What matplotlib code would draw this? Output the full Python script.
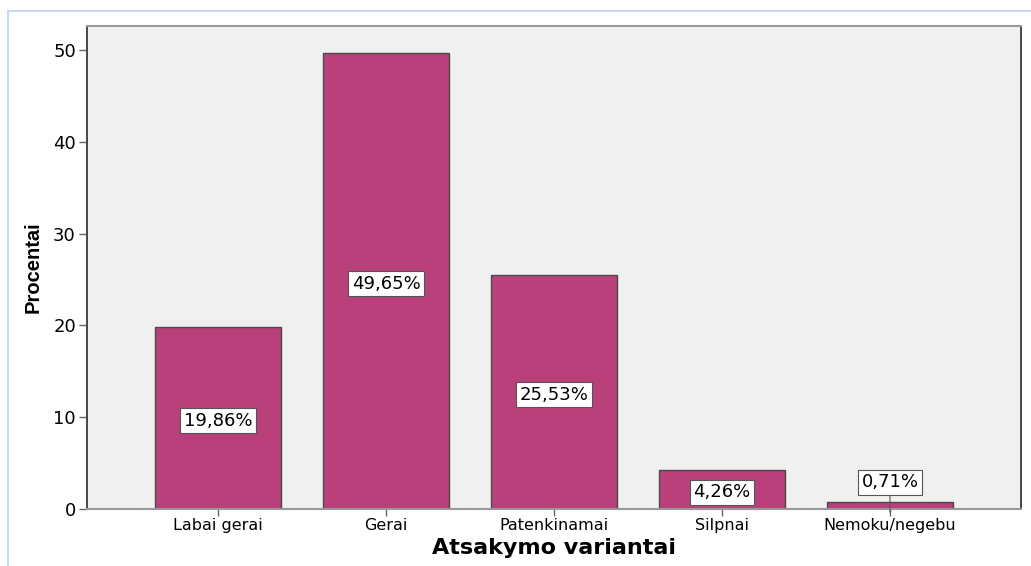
import matplotlib
matplotlib.use("Agg")
import matplotlib.pyplot as plt
from matplotlib.lines import Line2D

categories = ["Labai gerai", "Gerai", "Patenkinamai", "Silpnai", "Nemoku/negebu"]
values = [19.86, 49.65, 25.53, 4.26, 0.71]
labels = ["19,86%", "49,65%", "25,53%", "4,26%", "0,71%"]
yticks = [0, 10, 20, 30, 40, 50]

plt.rcParams['font.family'] = ['DejaVu Sans']

fig = plt.figure(figsize=(10.31, 5.66), dpi=100)
ax = fig.add_axes([87/1031, 57/566, (1021-87)/1031, (509-26)/566])
ax.set_facecolor('#F0F0F0')

x = list(range(len(categories)))
ax.bar(x, values, width=0.75, color='#B9407B', edgecolor='#4a4a4a', linewidth=1.0, zorder=2)

ax.set_xlim(-0.78, 4.78)
ax.set_ylim(0, 52.6)
ax.set_yticks(yticks)
ax.set_yticklabels([str(t) for t in yticks], fontsize=13)
ax.set_xticks(x)
ax.set_xticklabels(categories, fontsize=11.5)
ax.tick_params(axis='y', length=6, width=1, color='#666666', pad=2)
ax.tick_params(axis='x', length=5, width=1, color='#666666', pad=1.5)

for s in ['left', 'right']:
    ax.spines[s].set_color('#3a3a3a')
    ax.spines[s].set_linewidth(1.3)
for s in ['top', 'bottom']:
    ax.spines[s].set_color('#999999')
    ax.spines[s].set_linewidth(1.5)

bbox = dict(boxstyle='square,pad=0.2', facecolor='white', edgecolor='#555555', linewidth=0.8)
for i, (v, lab) in enumerate(zip(values, labels)):
    if v < 2:
        ax.annotate(lab, xy=(i, -0.35), xytext=(i, 2.9), ha='center', va='center',
                    fontsize=13, bbox=bbox, zorder=4, annotation_clip=False,
                    arrowprops=dict(arrowstyle='-', color='#555555', lw=0.8,
                                    shrinkA=0, shrinkB=0))
    else:
        ax.text(i, v / 2 - 0.3, lab, ha='center', va='center', fontsize=13, bbox=bbox, zorder=4)

ax.set_ylabel('Procentai', fontsize=14.5, fontweight='bold',
              family=['Liberation Sans', 'DejaVu Sans'])
ax.yaxis.set_label_coords(-0.047, 0.5)
ax.set_xlabel('Atsakymo variantai', fontsize=16, fontweight='bold')
ax.xaxis.set_label_coords(0.5, -0.061)

# light blue frame around the chart
fig.add_artist(Line2D([8/1031, 8/1031], [0, 1 - 11/566], transform=fig.transFigure,
                      color='#C8D8F0', linewidth=1.5))
fig.add_artist(Line2D([8/1031, 1], [1 - 11/566, 1 - 11/566], transform=fig.transFigure,
                      color='#C8D8F0', linewidth=1.5))

fig.savefig('out.png', dpi=100)
